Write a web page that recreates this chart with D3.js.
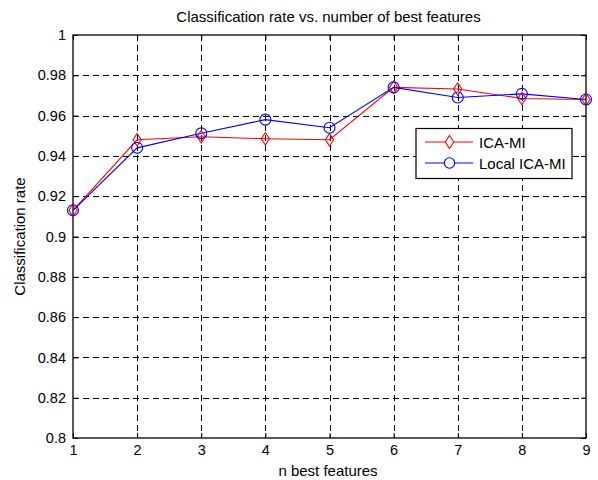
<!DOCTYPE html>
<html><head><meta charset="utf-8">
<script src="https://cdn.jsdelivr.net/npm/d3@7"></script>
<style>body{margin:0;background:#fff;} text{font-family:"Liberation Sans",Arial,sans-serif;}</style>
</head><body>
<svg id="c" width="598" height="480"></svg>
<script>
const xValues = [1,2,3,4,5,6,7,8,9];
const icaMI = [0.913,0.948,0.9495,0.9485,0.948,0.974,0.9732,0.9685,0.968];
const localIcaMI = [0.913,0.944,0.9512,0.958,0.954,0.974,0.969,0.9708,0.968];
const xTicks = [1,2,3,4,5,6,7,8,9];
const yTicks = [0.8,0.82,0.84,0.86,0.88,0.9,0.92,0.94,0.96,0.98,1];
const seriesNames = ["ICA-MI","Local ICA-MI"];

const svg = d3.select("#c");
const L=73, R=586, T=35, B=438;
const x = d3.scaleLinear().domain([1,9]).range([L,R]);
const y = d3.scaleLinear().domain([0.8,1]).range([B,T]);

// grid
const g = svg.append("g");
g.selectAll(".gx").data(xTicks.slice(1,-1)).enter().append("line")
 .attr("x1",d=>Math.round(x(d))+0.5).attr("x2",d=>Math.round(x(d))+0.5).attr("y1",T).attr("y2",B)
 .attr("stroke","#000").attr("stroke-width",1).attr("stroke-dasharray","6,4").attr("shape-rendering","crispEdges");
g.selectAll(".gy").data(yTicks.slice(1,-1)).enter().append("line")
 .attr("y1",d=>Math.round(y(d))+0.5).attr("y2",d=>Math.round(y(d))+0.5).attr("x1",L).attr("x2",R)
 .attr("stroke","#000").attr("stroke-width",1).attr("stroke-dasharray","6,4").attr("shape-rendering","crispEdges");

// axes
const fmtY = d=>d===1?"1":(d===0.8?"0.8":(d===0.9?"0.9":d3.format(".2f")(d)));
const xAxis = d3.axisBottom(x).tickValues(xTicks).tickSize(-5).tickPadding(7).tickFormat(d3.format("d"));
const yAxis = d3.axisLeft(y).tickValues(yTicks).tickSize(-5).tickPadding(7).tickFormat(fmtY);
const xa = svg.append("g").attr("transform",`translate(0,${B})`).call(xAxis);
const ya = svg.append("g").attr("transform",`translate(${L},0)`).call(yAxis);
[xa,ya].forEach(a=>{a.select(".domain").remove();a.selectAll("text").attr("font-size",14.5).attr("fill","#000").attr("font-family","Liberation Sans, Arial, sans-serif");a.selectAll("line").attr("stroke","#000");});
// top/right ticks
svg.append("g").attr("transform",`translate(0,${T})`).call(d3.axisTop(x).tickValues(xTicks).tickSize(-5).tickFormat(""))
 .call(a=>{a.select(".domain").remove();a.selectAll("line").attr("stroke","#000");});
svg.append("g").attr("transform",`translate(${R},0)`).call(d3.axisRight(y).tickValues(yTicks).tickSize(-5).tickFormat(""))
 .call(a=>{a.select(".domain").remove();a.selectAll("line").attr("stroke","#000");});
svg.append("rect").attr("x",L).attr("y",T).attr("width",R-L).attr("height",B-T)
 .attr("fill","none").attr("stroke","#000").attr("stroke-width",1.3);

// lines
const line = d3.line().x((d,i)=>x(xValues[i])).y(d=>y(d));
svg.append("path").datum(icaMI).attr("d",line).attr("fill","none").attr("stroke","#ff0000").attr("stroke-width",1.1);
svg.append("path").datum(localIcaMI).attr("d",line).attr("fill","none").attr("stroke","#0000ff").attr("stroke-width",1.1);
const diamond = (cx,cy,r)=>`M${cx},${cy-r}L${cx+r*0.65},${cy}L${cx},${cy+r}L${cx-r*0.65},${cy}Z`;
svg.selectAll(".dm").data(icaMI).enter().append("path")
 .attr("d",(d,i)=>diamond(x(xValues[i]),y(d),6.3)).attr("fill","none").attr("stroke","#ff0000").attr("stroke-width",1.1);
svg.selectAll(".ci").data(localIcaMI).enter().append("circle")
 .attr("cx",(d,i)=>x(xValues[i])).attr("cy",d=>y(d)).attr("r",5.5).attr("fill","none").attr("stroke","#0000ff").attr("stroke-width",1.1);

// legend
const lg = svg.append("g");
lg.append("rect").attr("x",416).attr("y",128.5).attr("width",156).attr("height",50).attr("fill","#fff").attr("stroke","#000").attr("stroke-width",1.2);
const colors=["#ff0000","#0000ff"];
seriesNames.forEach((n,i)=>{
  const ly = 142 + i*21;
  lg.append("line").attr("x1",425).attr("x2",473).attr("y1",ly).attr("y2",ly).attr("stroke",colors[i]).attr("stroke-width",1.1);
  if(i===0) lg.append("path").attr("d",diamond(449.5,ly,6.5)).attr("fill","#fff").attr("stroke",colors[i]).attr("stroke-width",1.1);
  else lg.append("circle").attr("cx",449.5).attr("cy",ly).attr("r",5.2).attr("fill","#fff").attr("stroke",colors[i]).attr("stroke-width",1.1);
  lg.append("text").attr("x",479).attr("y",ly+5.5).attr("font-size",15).text(n);
});

// titles
svg.append("text").attr("x",(L+R)/2-1).attr("y",22).attr("text-anchor","middle").attr("font-size",15).text("Classification rate vs. number of best features");
svg.append("text").attr("x",328).attr("y",476).attr("text-anchor","middle").attr("font-size",15).text("n best features");
svg.append("text").attr("transform",`translate(25,${(T+B)/2}) rotate(-90)`).attr("text-anchor","middle").attr("font-size",15).text("Classification rate");
</script>
</body></html>
